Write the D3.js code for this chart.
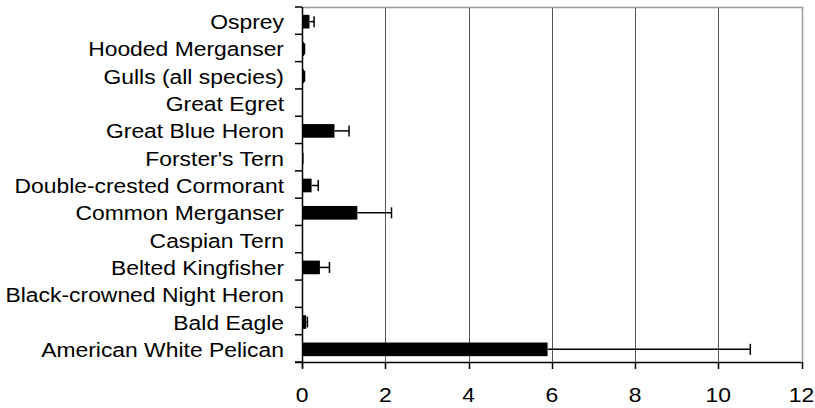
<!DOCTYPE html>
<html>
<head>
<meta charset="utf-8">
<script src="https://cdn.jsdelivr.net/npm/d3@7"></script>
<style>
  html, body { margin: 0; padding: 0; background: #fff; }
  svg { display: block; }
  text { font-family: "Liberation Sans", Arial, sans-serif; fill: #000; }
</style>
</head>
<body>
<svg id="chart" width="815" height="408"></svg>
<script>
const categories = ["Osprey", "Hooded Merganser", "Gulls (all species)", "Great Egret", "Great Blue Heron", "Forster's Tern", "Double-crested Cormorant", "Common Merganser", "Caspian Tern", "Belted Kingfisher", "Black-crowned Night Heron", "Bald Eagle", "American White Pelican"];
const means = [0.18, 0.05, 0.05, 0.01, 0.78, 0.01, 0.23, 1.33, 0.01, 0.43, 0.01, 0.10, 5.90];
const errors = [0.11, 0.01, 0.01, 0.00, 0.35, 0.01, 0.16, 0.82, 0.00, 0.23, 0.00, 0.03, 4.87];
const xTicks = [0, 2, 4, 6, 8, 10, 12];

(function () {
const svg = d3.select("#chart");
const pL = 302, pR = 801.5, pT = 7, pB = 362;
const fontSize = 21, stretch = 1.09;

const x = d3.scaleLinear().domain([0, 12]).range([pL, pR]);
const y = d3.scaleBand().domain(categories).range([pT, pB]).paddingInner(0.5).paddingOuter(0.25);
const step = y.step();

// gridlines
svg.append("g").selectAll("line").data(xTicks.filter(d => d > 0 && d < 12)).join("line")
  .attr("x1", d => Math.round(x(d)) + 0.5).attr("x2", d => Math.round(x(d)) + 0.5)
  .attr("y1", pT).attr("y2", pB)
  .attr("stroke", "#555").attr("stroke-width", 1);

// top and right border
svg.append("path")
  .attr("d", `M${pL},${pT + 0.5}H${Math.round(pR) + 0.5}V${pB}`)
  .attr("fill", "none").attr("stroke", "#999").attr("stroke-width", 1.5);

// bars
const rows = categories.map((c, i) => ({ c, m: means[i], e: errors[i] }));
const off = 1;
svg.append("g").selectAll("rect").data(rows).join("rect")
  .attr("x", x(0))
  .attr("y", d => y(d.c) + off)
  .attr("width", d => Math.max(0, x(d.m) - x(0)))
  .attr("height", y.bandwidth())
  .attr("fill", "#000");

// error bars
const eb = svg.append("g").attr("stroke", "#000").attr("stroke-width", 1.5);
rows.filter(d => d.e > 0).forEach(d => {
  const cy = y(d.c) + off + y.bandwidth() / 2;
  eb.append("line").attr("x1", x(d.m)).attr("x2", x(d.m + d.e)).attr("y1", cy).attr("y2", cy);
  eb.append("line").attr("x1", x(d.m + d.e)).attr("x2", x(d.m + d.e)).attr("y1", cy - 5.5).attr("y2", cy + 5.5);
});

// left axis line + ticks at category boundaries
svg.append("line").attr("x1", pL + 0.5).attr("x2", pL + 0.5).attr("y1", pT).attr("y2", pB + 6)
  .attr("stroke", "#000").attr("stroke-width", 1.5);
const bounds = d3.range(categories.length + 1).map(i => pT + i * step);
svg.append("g").selectAll("line").data(bounds).join("line")
  .attr("x1", pL - 7).attr("x2", pL).attr("y1", d => d).attr("y2", d => d)
  .attr("stroke", "#000").attr("stroke-width", 1.5);

// category labels
svg.append("g").selectAll("text").data(categories).join("text")
  .attr("transform", d => `translate(284,${y(d) + off + y.bandwidth() / 2 + 7.5}) scale(${stretch},1)`)
  .attr("text-anchor", "end")
  .attr("font-size", fontSize)
  .text(d => d);

// bottom axis
svg.append("line").attr("x1", pL - 7).attr("x2", pR).attr("y1", pB + 0.5).attr("y2", pB + 0.5)
  .attr("stroke", "#000").attr("stroke-width", 1.5);
svg.append("g").selectAll("line").data(xTicks).join("line")
  .attr("x1", d => Math.round(x(d)) + 0.5).attr("x2", d => Math.round(x(d)) + 0.5)
  .attr("y1", pB).attr("y2", pB + 7)
  .attr("stroke", "#000").attr("stroke-width", 1.5);
svg.append("g").selectAll("text").data(xTicks).join("text")
  .attr("transform", d => `translate(${x(d)},402) scale(${stretch},1)`)
  .attr("text-anchor", "middle")
  .attr("font-size", fontSize)
  .text(d => d);
})();
</script>
</body>
</html>
